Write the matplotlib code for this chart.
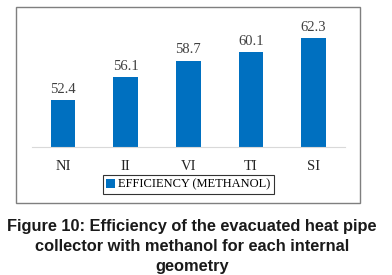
import matplotlib.pyplot as plt
from matplotlib.patches import Rectangle

categories = ["NI", "II", "VI", "TI", "SI"]
efficiency = [52.4, 56.1, 58.7, 60.1, 62.3]
series_name = "EFFICIENCY (METHANOL)"
caption = ("Figure 10: Efficiency of the evacuated heat pipe\n"
           "collector with methanol for each internal\n"
           "geometry")

fig = plt.figure(figsize=(3.92, 2.75), dpi=100)

# chart frame
fig.patches.append(Rectangle((0.041, 0.262), 0.877, 0.713, transform=fig.transFigure,
                             fill=False, edgecolor="#7f7f7f", linewidth=1.0))

ax = fig.add_axes([0.081, 0.465, 0.799, 0.459])
bars = ax.bar(range(len(categories)), efficiency, width=0.39, color="#0070C0",
              label=series_name)
ax.set_ylim(45, 65)
ax.set_xlim(-0.5, len(categories) - 0.5)
for s in ["top", "left", "right"]:
    ax.spines[s].set_visible(False)
ax.spines["bottom"].set_color("#d9d9d9")
ax.set_yticks([])
ax.set_xticks(range(len(categories)))
ax.set_xticklabels(categories, family="Liberation Serif", fontsize=10.5, color="#262626")
ax.tick_params(axis="x", length=0, pad=9)
for b, v in zip(bars, efficiency):
    ax.annotate(f"{v:.1f}", (b.get_x() + b.get_width() / 2, v), xytext=(0, 3),
                textcoords="offset points", ha="center", va="bottom",
                family="Liberation Serif", fontsize=10.5, color="#404040")

leg = ax.legend(loc="center", bbox_to_anchor=(0.48, 0.329), bbox_transform=fig.transFigure,
                prop={"family": "Liberation Serif", "size": 9}, fancybox=False,
                handlelength=0.7, handleheight=0.7, handletextpad=0.2, borderpad=0.3,
                borderaxespad=0, frameon=True)
leg.get_frame().set_edgecolor("black")
leg.get_frame().set_linewidth(0.8)

fig.text(0.49, 0.005, caption, ha="center", va="bottom", family="Liberation Sans",
         fontweight="bold", fontsize=11.8, linespacing=1.4, color="#1a1a1a")

fig.savefig("out.png", dpi=100)
